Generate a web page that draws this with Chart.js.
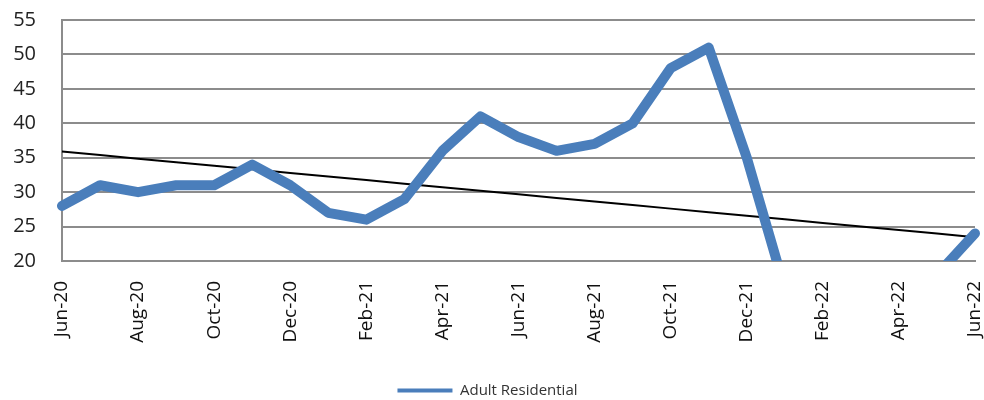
<!DOCTYPE html>
<html>
<head>
<meta charset="utf-8">
<script src="https://cdn.jsdelivr.net/npm/chart.js@4.4.1/dist/chart.umd.min.js"></script>
<style>
  html, body { margin: 0; padding: 0; background: #fff; }
  #wrap { width: 984px; height: 400px; }
</style>
</head>
<body>
<div id="wrap"><canvas id="chart" width="984" height="400"></canvas></div>
<script>
const months = ['Jun-20', 'Jul-20', 'Aug-20', 'Sep-20', 'Oct-20', 'Nov-20', 'Dec-20',
    'Jan-21', 'Feb-21', 'Mar-21', 'Apr-21', 'May-21', 'Jun-21', 'Jul-21', 'Aug-21',
    'Sep-21', 'Oct-21', 'Nov-21', 'Dec-21', 'Jan-22', 'Feb-22', 'Mar-22', 'Apr-22',
    'May-22', 'Jun-22'];
// Jan-22 .. May-22 fall below the axis minimum, estimated from slopes and trend
const adultResidential = [28, 31, 30, 31, 31, 34, 31, 27, 26, 29, 36, 41, 38, 36, 37,
    40, 48, 51, 35, 16, 12, 8, 4, 18, 24];
const yTicks = [20, 25, 30, 35, 40, 45, 50, 55];

// linear trend (least squares), like the spreadsheet trendline
function linearTrend(values) {
    const n = values.length;
    let sx = 0, sy = 0, sxy = 0, sxx = 0;
    values.forEach(function(v, i) {
        sx += i; sy += v; sxy += i * v; sxx += i * i;
    });
    const slope = (n * sxy - sx * sy) / (n * sxx - sx * sx);
    const intercept = (sy - slope * sx) / n;
    return values.map(function(v, i) { return intercept + slope * i; });
}

const ctx = document.getElementById('chart').getContext('2d');
new Chart(ctx, {
    type: 'line',
    data: {
        labels: months,
        datasets: [{
            label: 'Adult Residential',
            data: adultResidential,
            borderColor: '#4a7ebb',
            backgroundColor: '#4a7ebb',
            borderWidth: 10,
            pointRadius: 0,
            tension: 0,
            borderJoinStyle: 'round',
            borderCapStyle: 'round'
        }, {
            label: 'trend',
            data: linearTrend(adultResidential),
            borderColor: '#000',
            borderWidth: 2,
            pointRadius: 0,
            tension: 0
        }]
    },
    options: {
        responsive: false,
        animation: false,
        devicePixelRatio: 1,
        layout: { padding: { top: 20, right: 9, left: 0, bottom: -8 } },
        plugins: {
            tooltip: { enabled: false },
            legend: {
                position: 'bottom',
                labels: {
                    boxWidth: 55,
                    boxHeight: 4,
                    padding: 10,
                    color: '#333',
                    font: { family: 'Open Sans', size: 15 },
                    generateLabels: function(chart) {
                        const items = Chart.defaults.plugins.legend.labels.generateLabels(chart);
                        return items.filter(function(item) { return item.text !== 'trend'; })
                            .map(function(item) {
                                item.lineWidth = 0;
                                item.strokeStyle = 'rgba(0,0,0,0)';
                                return item;
                            });
                    }
                }
            }
        },
        scales: {
            x: {
                offset: false,
                grid: { display: false },
                border: { color: '#8c8c8c', width: 2 },
                afterFit: function(scale) {
                    scale.height = 112;
                    scale.paddingLeft = 0;
                    scale.paddingRight = 0;
                },
                ticks: {
                    autoSkip: false,
                    maxRotation: 90,
                    minRotation: 90,
                    padding: 12,
                    color: '#111',
                    font: { family: 'Open Sans', size: 19 },
                    callback: function(value, index) {
                        return index % 2 === 0 ? months[index] : '';
                    }
                }
            },
            y: {
                min: yTicks[0],
                max: yTicks[yTicks.length - 1],
                afterBuildTicks: function(axis) {
                    axis.ticks = yTicks.map(function(v) { return { value: v }; });
                },
                afterFit: function(scale) {
                    scale.width = 62;
                    scale.paddingTop = 0;
                    scale.paddingBottom = 0;
                },
                grid: { color: '#8c8c8c', lineWidth: 2, drawTicks: false },
                border: { color: '#8c8c8c', width: 2 },
                ticks: {
                    padding: 26,
                    color: '#222',
                    font: { family: 'Open Sans', size: 20 }
                }
            }
        }
    }
});
</script>
</body>
</html>
